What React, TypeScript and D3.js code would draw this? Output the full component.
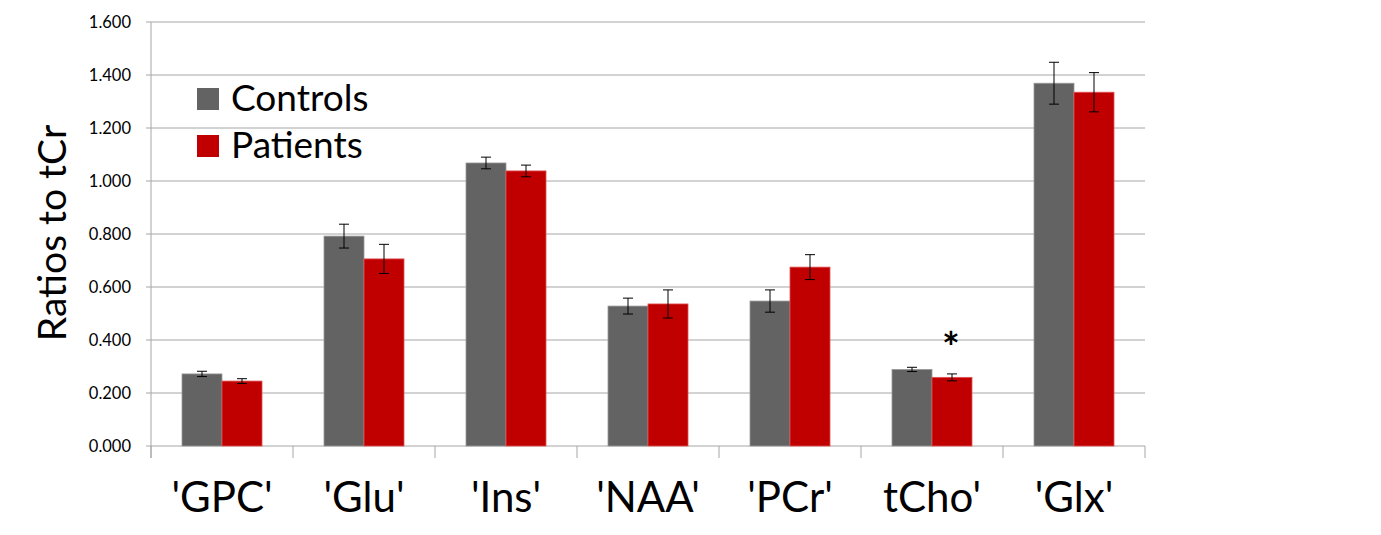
import React from "react";
import * as d3 from "d3";

const categories = ["'GPC'", "'Glu'", "'Ins'", "'NAA'", "'PCr'", "tCho'", "'Glx'"];
const seriesNames = ["Controls", "Patients"];
const controls = [0.272, 0.792, 1.068, 0.528, 0.547, 0.289, 1.369];
const controlsErr = [0.01, 0.045, 0.022, 0.03, 0.042, 0.008, 0.079];
const patients = [0.245, 0.706, 1.038, 0.536, 0.675, 0.259, 1.335];
const patientsErr = [0.009, 0.055, 0.022, 0.053, 0.047, 0.013, 0.074];
const yTicks = [0, 0.2, 0.4, 0.6, 0.8, 1.0, 1.2, 1.4, 1.6];
const significantPatients = ["tCho'"];
const yLabel = "Ratios to tCr";

const W = 1381;
const H = 535;
const left = 151;
const right = 1145;
const top = 22;
const bottom = 446;
const colors = ["#636363", "#C00000"];
const strokes = ["#9a9a9a", "#e05050"];
const FONT = "Lato, 'Open Sans', sans-serif";

export default function App() {
  const x = d3.scaleBand<string>().domain(categories).range([left, right]).paddingInner(0).paddingOuter(0);
  const xs = d3.scaleBand<string>().domain(seriesNames).range([0, x.bandwidth()]).paddingInner(0).paddingOuter(0.775);
  const y = d3.scaleLinear().domain([0, 1.6]).range([bottom, top]);
  const fmt = d3.format(".3f");
  const vals = [controls, patients];
  const errs = [controlsErr, patientsErr];
  const grid = "#a6a6a6";
  const boundaries = [...categories.map((c) => x(c) as number), right];

  return (
    <svg width={W} height={H} style={{ position: "absolute", left: 0, top: 0, background: "#fff" }} fontFamily={FONT}>
      {yTicks.map((t) => (
        <g key={t}>
          <line x1={left - 5} x2={right} y1={y(t)} y2={y(t)} stroke={grid} strokeWidth={1} />
          <text x={131} y={y(t)} dy="0.35em" textAnchor="end" fontSize={16.5} fill="#000">
            {fmt(t)}
          </text>
        </g>
      ))}
      <line x1={left} x2={left} y1={top} y2={bottom + 12} stroke={grid} strokeWidth={1} />
      {boundaries.map((b, i) => (
        <line key={i} x1={b} x2={b} y1={bottom} y2={bottom + 12} stroke={grid} strokeWidth={1} />
      ))}
      {categories.map((c, i) => (
        <g key={c}>
          {seriesNames.map((s, j) => {
            const v = vals[j][i];
            const e = errs[j][i];
            const bx = (x(c) as number) + (xs(s) as number);
            const cx = bx + xs.bandwidth() / 2;
            return (
              <g key={s}>
                <rect x={bx} y={y(v)} width={xs.bandwidth()} height={y(0) - y(v)} fill={colors[j]} stroke={strokes[j]} strokeWidth={0.8} />
                <line x1={cx} x2={cx} y1={y(v + e)} y2={y(v - e)} stroke="#000" strokeWidth={1} />
                <line x1={cx - 5} x2={cx + 5} y1={y(v + e)} y2={y(v + e)} stroke="#000" strokeWidth={1} />
                <line x1={cx - 5} x2={cx + 5} y1={y(v - e)} y2={y(v - e)} stroke="#000" strokeWidth={1} />
              </g>
            );
          })}
          {significantPatients.includes(c) && (
            <text
              x={(x(c) as number) + (xs("Patients") as number) + xs.bandwidth() / 2 - 1}
              y={y(patients[i] + patientsErr[i]) - 11}
              textAnchor="middle"
              fontSize={42}
              fontWeight="bold"
              fill="#000"
            >
              *
            </text>
          )}
          <text x={(x(c) as number) + x.bandwidth() / 2} y={512} textAnchor="middle" fontSize={42} fill="#000">
            {c}
          </text>
        </g>
      ))}
      <text transform={`translate(66,233) rotate(-90)`} textAnchor="middle" fontSize={39} fill="#000">
        {yLabel}
      </text>
      {seriesNames.map((s, j) => (
        <g key={s}>
          <rect x={197} y={88 + j * 47} width={22} height={22} fill={colors[j]} />
          <text x={231} y={111 + j * 47} fontSize={37} fill="#000">
            {s}
          </text>
        </g>
      ))}
    </svg>
  );
}
